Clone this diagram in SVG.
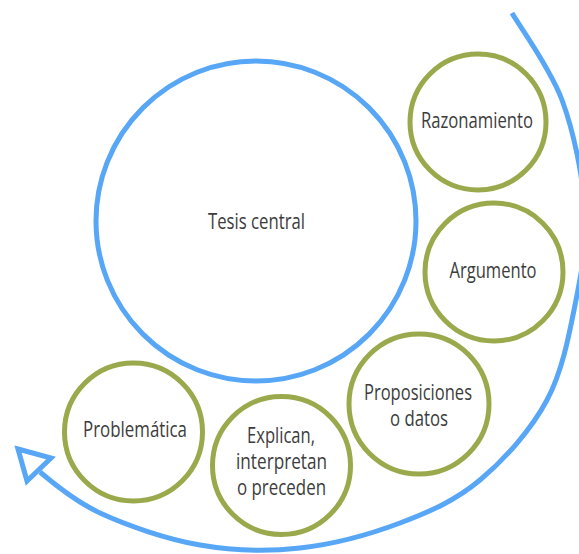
<svg xmlns="http://www.w3.org/2000/svg" width="579" height="554" viewBox="0 0 579 554">
<style>
.bg{fill:#ffffff}
.main{fill:#ffffff;stroke:#58a6f6;stroke-width:5}
.sub{fill:#ffffff;stroke:#9aa94b;stroke-width:5}
.lbl{font-family:"Open Sans","Noto Sans",sans-serif;font-size:21px;fill:#3c3c3c;text-anchor:middle}
.flow{fill:none;stroke:#58a6f6;stroke-width:5;stroke-linecap:butt}
.head{fill:#ffffff;stroke:#58a6f6;stroke-width:5;stroke-linejoin:miter}
</style>
<rect class="bg" x="0" y="0" width="579" height="554"/>
<g id="connectors">
<path class="flow" d="M512,13 C520.3,27.5 549.8,67.2 562,100 C574.2,132.8 582.7,176.7 585,210 C587.3,243.3 582.3,268.3 576,300 C569.7,331.7 563,370 547,400 C531,430 504.5,459.5 480,480 C455.5,500.5 430,511.7 400,523 C370,534.3 333.3,544.3 300,548 C266.7,551.7 233.3,550.8 200,545 C166.7,539.2 127,525.5 100,513 C73,500.5 52,482 40,472"/>
<polygon class="head" points="18,449 51,458 27,481"/>
</g>
<g id="tesis">
<circle class="main" cx="256" cy="221" r="160"/>
<text class="lbl" x="256.5" y="229" textLength="97" lengthAdjust="spacingAndGlyphs">Tesis central</text>
</g>
<g id="razonamiento">
<circle class="sub" cx="478" cy="122" r="68"/>
<text class="lbl" x="477" y="128" textLength="112" lengthAdjust="spacingAndGlyphs">Razonamiento</text>
</g>
<g id="argumento">
<circle class="sub" cx="494" cy="272" r="69"/>
<text class="lbl" x="493" y="278" textLength="87" lengthAdjust="spacingAndGlyphs">Argumento</text>
</g>
<g id="proposiciones">
<circle class="sub" cx="419" cy="404" r="70"/>
<text class="lbl" x="418" y="400" textLength="108" lengthAdjust="spacingAndGlyphs">Proposiciones</text>
<text class="lbl" x="419" y="426" textLength="58" lengthAdjust="spacingAndGlyphs">o datos</text>
</g>
<g id="explican">
<circle class="sub" cx="281.5" cy="465.5" r="69"/>
<text class="lbl" x="281" y="443" textLength="68" lengthAdjust="spacingAndGlyphs">Explican,</text>
<text class="lbl" x="281.5" y="469" textLength="91" lengthAdjust="spacingAndGlyphs">interpretan</text>
<text class="lbl" x="281.5" y="495" textLength="89" lengthAdjust="spacingAndGlyphs">o preceden</text>
</g>
<g id="problematica">
<circle class="sub" cx="133.5" cy="432" r="69"/>
<text class="lbl" x="135" y="437" textLength="104" lengthAdjust="spacingAndGlyphs">Problemática</text>
</g>
</svg>
